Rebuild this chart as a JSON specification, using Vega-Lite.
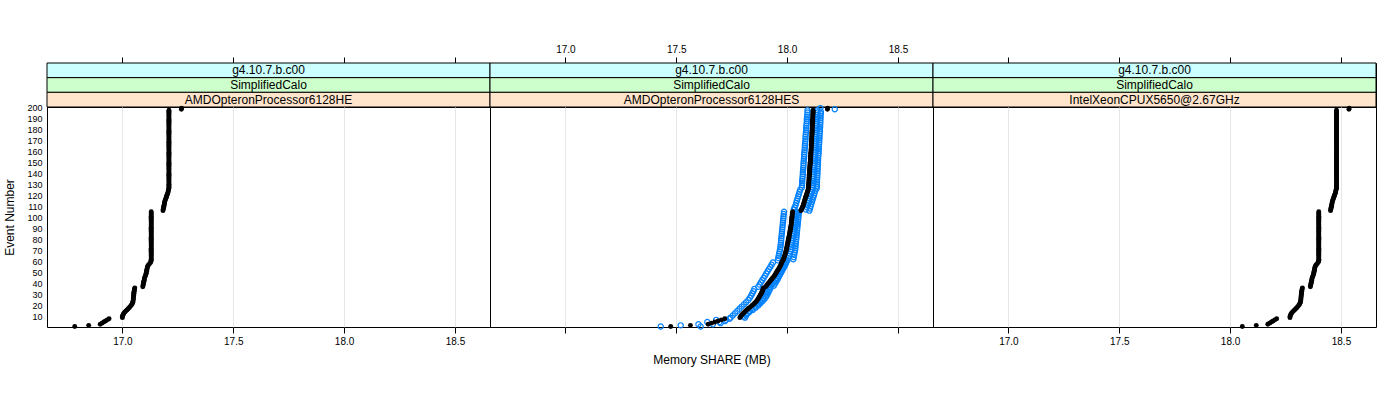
{
"$schema":"https://vega.github.io/schema/vega-lite/v6.json",
"padding":{"left":3,"top":43,"right":5,"bottom":5},
"background":"white",
"config":{"font":"Liberation Sans","view":{"stroke":"black","strokeWidth":1},"axis":{"labelFont":"Liberation Sans","titleFont":"Liberation Sans","labelColor":"black","titleColor":"black","tickColor":"black","titleFontWeight":"normal","domain":false},"concat":{"spacing":0}},
"datasets":{
"he":[{"e":1,"x":16.785},{"e":2,"x":16.848},{"e":3,"x":16.900},{"e":4,"x":16.908},{"e":5,"x":16.916},{"e":6,"x":16.924},{"e":7,"x":16.932},{"e":8,"x":16.940},{"e":9,"x":17.000},{"e":10,"x":17.000},{"e":11,"x":17.002},{"e":12,"x":17.004},{"e":13,"x":17.007},{"e":14,"x":17.011},{"e":15,"x":17.016},{"e":16,"x":17.021},{"e":17,"x":17.026},{"e":18,"x":17.031},{"e":19,"x":17.035},{"e":20,"x":17.039},{"e":21,"x":17.043},{"e":22,"x":17.045},{"e":23,"x":17.047},{"e":24,"x":17.048},{"e":25,"x":17.049},{"e":26,"x":17.049},{"e":27,"x":17.050},{"e":28,"x":17.050},{"e":29,"x":17.051},{"e":30,"x":17.051},{"e":31,"x":17.052},{"e":32,"x":17.052},{"e":33,"x":17.053},{"e":34,"x":17.054},{"e":35,"x":17.055},{"e":36,"x":17.056},{"e":37,"x":17.092},{"e":38,"x":17.093},{"e":39,"x":17.094},{"e":40,"x":17.095},{"e":41,"x":17.096},{"e":42,"x":17.097},{"e":43,"x":17.098},{"e":44,"x":17.099},{"e":45,"x":17.100},{"e":46,"x":17.102},{"e":47,"x":17.104},{"e":48,"x":17.106},{"e":49,"x":17.107},{"e":50,"x":17.108},{"e":51,"x":17.109},{"e":52,"x":17.110},{"e":53,"x":17.111},{"e":54,"x":17.112},{"e":55,"x":17.113},{"e":56,"x":17.115},{"e":57,"x":17.119},{"e":58,"x":17.123},{"e":59,"x":17.127},{"e":60,"x":17.129},
{"e":61,"x":17.13},{"e":62,"x":17.13},{"e":63,"x":17.13},{"e":64,"x":17.13},{"e":65,"x":17.13},{"e":66,"x":17.13},{"e":67,"x":17.13},{"e":68,"x":17.13},{"e":69,"x":17.13},{"e":70,"x":17.13},{"e":71,"x":17.13},{"e":72,"x":17.13},{"e":73,"x":17.13},{"e":74,"x":17.13},{"e":75,"x":17.13},{"e":76,"x":17.13},{"e":77,"x":17.13},{"e":78,"x":17.13},{"e":79,"x":17.13},{"e":80,"x":17.13},{"e":81,"x":17.13},{"e":82,"x":17.13},{"e":83,"x":17.13},{"e":84,"x":17.13},{"e":85,"x":17.13},{"e":86,"x":17.13},{"e":87,"x":17.13},{"e":88,"x":17.13},{"e":89,"x":17.13},{"e":90,"x":17.13},{"e":91,"x":17.13},{"e":92,"x":17.13},{"e":93,"x":17.13},{"e":94,"x":17.13},{"e":95,"x":17.13},{"e":96,"x":17.13},{"e":97,"x":17.13},{"e":98,"x":17.13},{"e":99,"x":17.13},{"e":100,"x":17.13},{"e":101,"x":17.13},{"e":102,"x":17.13},{"e":103,"x":17.13},{"e":104,"x":17.13},{"e":105,"x":17.13},
{"e":106,"x":17.183},{"e":107,"x":17.184},{"e":108,"x":17.185},{"e":109,"x":17.186},{"e":110,"x":17.187},{"e":111,"x":17.188},{"e":112,"x":17.189},{"e":113,"x":17.190},{"e":114,"x":17.191},{"e":115,"x":17.192},{"e":116,"x":17.194},{"e":117,"x":17.196},{"e":118,"x":17.198},{"e":119,"x":17.199},{"e":120,"x":17.201},{"e":121,"x":17.203},{"e":122,"x":17.205},{"e":123,"x":17.206},{"e":124,"x":17.207},{"e":125,"x":17.208},
{"e":126,"x":17.21},{"e":127,"x":17.21},{"e":128,"x":17.21},{"e":129,"x":17.21},{"e":130,"x":17.21},{"e":131,"x":17.21},{"e":132,"x":17.21},{"e":133,"x":17.21},{"e":134,"x":17.21},{"e":135,"x":17.21},{"e":136,"x":17.21},{"e":137,"x":17.21},{"e":138,"x":17.21},{"e":139,"x":17.21},{"e":140,"x":17.21},{"e":141,"x":17.21},{"e":142,"x":17.21},{"e":143,"x":17.21},{"e":144,"x":17.21},{"e":145,"x":17.21},{"e":146,"x":17.21},{"e":147,"x":17.21},{"e":148,"x":17.21},{"e":149,"x":17.21},{"e":150,"x":17.21},{"e":151,"x":17.21},{"e":152,"x":17.21},{"e":153,"x":17.21},{"e":154,"x":17.21},{"e":155,"x":17.21},{"e":156,"x":17.21},{"e":157,"x":17.21},{"e":158,"x":17.21},{"e":159,"x":17.21},{"e":160,"x":17.21},{"e":161,"x":17.21},{"e":162,"x":17.21},{"e":163,"x":17.21},{"e":164,"x":17.21},{"e":165,"x":17.21},{"e":166,"x":17.21},{"e":167,"x":17.21},{"e":168,"x":17.21},{"e":169,"x":17.21},{"e":170,"x":17.21},{"e":171,"x":17.21},{"e":172,"x":17.21},{"e":173,"x":17.21},{"e":174,"x":17.21},{"e":175,"x":17.21},{"e":176,"x":17.21},{"e":177,"x":17.21},{"e":178,"x":17.21},{"e":179,"x":17.21},{"e":180,"x":17.21},{"e":181,"x":17.21},{"e":182,"x":17.21},{"e":183,"x":17.21},{"e":184,"x":17.21},{"e":185,"x":17.21},{"e":186,"x":17.21},{"e":187,"x":17.21},{"e":188,"x":17.21},{"e":189,"x":17.21},{"e":190,"x":17.21},{"e":191,"x":17.21},{"e":192,"x":17.21},{"e":193,"x":17.21},{"e":194,"x":17.21},{"e":195,"x":17.21},{"e":196,"x":17.21},{"e":197,"x":17.21},{"e":198,"x":17.266},{"e":199,"x":17.267}],
"xeon":[{"e":1,"x":18.055},{"e":2,"x":18.118},{"e":3,"x":18.170},{"e":4,"x":18.178},{"e":5,"x":18.186},{"e":6,"x":18.194},{"e":7,"x":18.202},{"e":8,"x":18.210},{"e":9,"x":18.270},{"e":10,"x":18.270},{"e":11,"x":18.272},{"e":12,"x":18.274},{"e":13,"x":18.277},{"e":14,"x":18.281},{"e":15,"x":18.286},{"e":16,"x":18.291},{"e":17,"x":18.296},{"e":18,"x":18.301},{"e":19,"x":18.305},{"e":20,"x":18.309},{"e":21,"x":18.313},{"e":22,"x":18.315},{"e":23,"x":18.317},{"e":24,"x":18.318},{"e":25,"x":18.319},{"e":26,"x":18.319},{"e":27,"x":18.320},{"e":28,"x":18.320},{"e":29,"x":18.321},{"e":30,"x":18.321},{"e":31,"x":18.322},{"e":32,"x":18.322},{"e":33,"x":18.323},{"e":34,"x":18.324},{"e":35,"x":18.325},{"e":36,"x":18.326},{"e":37,"x":18.362},{"e":38,"x":18.363},{"e":39,"x":18.364},{"e":40,"x":18.365},{"e":41,"x":18.366},{"e":42,"x":18.367},{"e":43,"x":18.368},{"e":44,"x":18.369},{"e":45,"x":18.370},{"e":46,"x":18.372},{"e":47,"x":18.374},{"e":48,"x":18.376},{"e":49,"x":18.377},{"e":50,"x":18.378},{"e":51,"x":18.379},{"e":52,"x":18.380},{"e":53,"x":18.381},{"e":54,"x":18.382},{"e":55,"x":18.383},{"e":56,"x":18.385},{"e":57,"x":18.389},{"e":58,"x":18.393},{"e":59,"x":18.397},{"e":60,"x":18.399},
{"e":61,"x":18.4},{"e":62,"x":18.4},{"e":63,"x":18.4},{"e":64,"x":18.4},{"e":65,"x":18.4},{"e":66,"x":18.4},{"e":67,"x":18.4},{"e":68,"x":18.4},{"e":69,"x":18.4},{"e":70,"x":18.4},{"e":71,"x":18.4},{"e":72,"x":18.4},{"e":73,"x":18.4},{"e":74,"x":18.4},{"e":75,"x":18.4},{"e":76,"x":18.4},{"e":77,"x":18.4},{"e":78,"x":18.4},{"e":79,"x":18.4},{"e":80,"x":18.4},{"e":81,"x":18.4},{"e":82,"x":18.4},{"e":83,"x":18.4},{"e":84,"x":18.4},{"e":85,"x":18.4},{"e":86,"x":18.4},{"e":87,"x":18.4},{"e":88,"x":18.4},{"e":89,"x":18.4},{"e":90,"x":18.4},{"e":91,"x":18.4},{"e":92,"x":18.4},{"e":93,"x":18.4},{"e":94,"x":18.4},{"e":95,"x":18.4},{"e":96,"x":18.4},{"e":97,"x":18.4},{"e":98,"x":18.4},{"e":99,"x":18.4},{"e":100,"x":18.4},{"e":101,"x":18.4},{"e":102,"x":18.4},{"e":103,"x":18.4},{"e":104,"x":18.4},{"e":105,"x":18.4},
{"e":106,"x":18.453},{"e":107,"x":18.454},{"e":108,"x":18.455},{"e":109,"x":18.456},{"e":110,"x":18.457},{"e":111,"x":18.458},{"e":112,"x":18.459},{"e":113,"x":18.460},{"e":114,"x":18.461},{"e":115,"x":18.462},{"e":116,"x":18.464},{"e":117,"x":18.466},{"e":118,"x":18.468},{"e":119,"x":18.469},{"e":120,"x":18.471},{"e":121,"x":18.473},{"e":122,"x":18.475},{"e":123,"x":18.476},{"e":124,"x":18.477},{"e":125,"x":18.478},
{"e":126,"x":18.48},{"e":127,"x":18.48},{"e":128,"x":18.48},{"e":129,"x":18.48},{"e":130,"x":18.48},{"e":131,"x":18.48},{"e":132,"x":18.48},{"e":133,"x":18.48},{"e":134,"x":18.48},{"e":135,"x":18.48},{"e":136,"x":18.48},{"e":137,"x":18.48},{"e":138,"x":18.48},{"e":139,"x":18.48},{"e":140,"x":18.48},{"e":141,"x":18.48},{"e":142,"x":18.48},{"e":143,"x":18.48},{"e":144,"x":18.48},{"e":145,"x":18.48},{"e":146,"x":18.48},{"e":147,"x":18.48},{"e":148,"x":18.48},{"e":149,"x":18.48},{"e":150,"x":18.48},{"e":151,"x":18.48},{"e":152,"x":18.48},{"e":153,"x":18.48},{"e":154,"x":18.48},{"e":155,"x":18.48},{"e":156,"x":18.48},{"e":157,"x":18.48},{"e":158,"x":18.48},{"e":159,"x":18.48},{"e":160,"x":18.48},{"e":161,"x":18.48},{"e":162,"x":18.48},{"e":163,"x":18.48},{"e":164,"x":18.48},{"e":165,"x":18.48},{"e":166,"x":18.48},{"e":167,"x":18.48},{"e":168,"x":18.48},{"e":169,"x":18.48},{"e":170,"x":18.48},{"e":171,"x":18.48},{"e":172,"x":18.48},{"e":173,"x":18.48},{"e":174,"x":18.48},{"e":175,"x":18.48},{"e":176,"x":18.48},{"e":177,"x":18.48},{"e":178,"x":18.48},{"e":179,"x":18.48},{"e":180,"x":18.48},{"e":181,"x":18.48},{"e":182,"x":18.48},{"e":183,"x":18.48},{"e":184,"x":18.48},{"e":185,"x":18.48},{"e":186,"x":18.48},{"e":187,"x":18.48},{"e":188,"x":18.48},{"e":189,"x":18.48},{"e":190,"x":18.48},{"e":191,"x":18.48},{"e":192,"x":18.48},{"e":193,"x":18.48},{"e":194,"x":18.48},{"e":195,"x":18.48},{"e":196,"x":18.48},{"e":197,"x":18.48},{"e":198,"x":18.536},{"e":199,"x":18.537}],
"hes":[{"e":1,"x":17.475},{"e":2,"x":17.564},{"e":3,"x":17.644},{"e":4,"x":17.659},{"e":5,"x":17.674},{"e":6,"x":17.689},{"e":7,"x":17.704},{"e":8,"x":17.719},{"e":9,"x":17.787},{"e":10,"x":17.790},{"e":11,"x":17.794},{"e":12,"x":17.798},{"e":13,"x":17.803},{"e":14,"x":17.808},{"e":15,"x":17.813},{"e":16,"x":17.818},{"e":17,"x":17.824},{"e":18,"x":17.830},{"e":19,"x":17.836},{"e":20,"x":17.842},{"e":21,"x":17.848},{"e":22,"x":17.853},{"e":23,"x":17.858},{"e":24,"x":17.862},{"e":25,"x":17.866},{"e":26,"x":17.869},{"e":27,"x":17.872},{"e":28,"x":17.875},{"e":29,"x":17.878},{"e":30,"x":17.881},{"e":31,"x":17.884},{"e":32,"x":17.886},{"e":33,"x":17.888},{"e":34,"x":17.890},{"e":35,"x":17.892},{"e":36,"x":17.894},{"e":37,"x":17.903},{"e":38,"x":17.907},{"e":39,"x":17.911},{"e":40,"x":17.915},{"e":41,"x":17.919},{"e":42,"x":17.923},{"e":43,"x":17.927},{"e":44,"x":17.931},{"e":45,"x":17.935},{"e":46,"x":17.939},{"e":47,"x":17.943},{"e":48,"x":17.946},{"e":49,"x":17.949},{"e":50,"x":17.952},{"e":51,"x":17.955},{"e":52,"x":17.958},{"e":53,"x":17.961},{"e":54,"x":17.964},{"e":55,"x":17.967},{"e":56,"x":17.970},{"e":57,"x":17.972},{"e":58,"x":17.974},{"e":59,"x":17.976},{"e":60,"x":17.978},
{"e":61,"x":17.982},{"e":62,"x":17.984},{"e":63,"x":17.985},{"e":64,"x":17.987},{"e":65,"x":17.989},{"e":66,"x":17.990},{"e":67,"x":17.992},{"e":68,"x":17.993},{"e":69,"x":17.995},{"e":70,"x":17.996},{"e":71,"x":17.997},{"e":72,"x":17.998},{"e":73,"x":17.999},{"e":74,"x":18.000},{"e":75,"x":18.001},{"e":76,"x":18.002},{"e":77,"x":18.003},{"e":78,"x":18.004},{"e":79,"x":18.005},{"e":80,"x":18.006},{"e":81,"x":18.007},{"e":82,"x":18.008},{"e":83,"x":18.009},{"e":84,"x":18.010},{"e":85,"x":18.011},{"e":86,"x":18.012},{"e":87,"x":18.013},{"e":88,"x":18.014},{"e":89,"x":18.015},{"e":90,"x":18.016},{"e":91,"x":18.016},{"e":92,"x":18.017},{"e":93,"x":18.018},{"e":94,"x":18.019},{"e":95,"x":18.019},{"e":96,"x":18.020},{"e":97,"x":18.020},{"e":98,"x":18.021},{"e":99,"x":18.021},{"e":100,"x":18.022},{"e":101,"x":18.022},{"e":102,"x":18.023},{"e":103,"x":18.023},{"e":104,"x":18.024},{"e":105,"x":18.025},
{"e":106,"x":18.062},{"e":107,"x":18.065},{"e":108,"x":18.067},{"e":109,"x":18.069},{"e":110,"x":18.071},{"e":111,"x":18.073},{"e":112,"x":18.074},{"e":113,"x":18.076},{"e":114,"x":18.077},{"e":115,"x":18.079},{"e":116,"x":18.080},{"e":117,"x":18.082},{"e":118,"x":18.083},{"e":119,"x":18.085},{"e":120,"x":18.087},{"e":121,"x":18.088},{"e":122,"x":18.090},{"e":123,"x":18.091},{"e":124,"x":18.093},{"e":125,"x":18.095},
{"e":126,"x":18.096},{"e":127,"x":18.096},{"e":128,"x":18.097},{"e":129,"x":18.097},{"e":130,"x":18.097},{"e":131,"x":18.098},{"e":132,"x":18.098},{"e":133,"x":18.098},{"e":134,"x":18.099},{"e":135,"x":18.099},{"e":136,"x":18.099},{"e":137,"x":18.100},{"e":138,"x":18.100},{"e":139,"x":18.100},{"e":140,"x":18.101},{"e":141,"x":18.101},{"e":142,"x":18.101},{"e":143,"x":18.102},{"e":144,"x":18.102},{"e":145,"x":18.102},{"e":146,"x":18.103},{"e":147,"x":18.103},{"e":148,"x":18.104},{"e":149,"x":18.104},{"e":150,"x":18.104},{"e":151,"x":18.105},{"e":152,"x":18.105},{"e":153,"x":18.105},{"e":154,"x":18.106},{"e":155,"x":18.106},{"e":156,"x":18.106},{"e":157,"x":18.107},{"e":158,"x":18.107},{"e":159,"x":18.107},{"e":160,"x":18.108},{"e":161,"x":18.108},{"e":162,"x":18.108},{"e":163,"x":18.109},{"e":164,"x":18.109},{"e":165,"x":18.109},{"e":166,"x":18.109},{"e":167,"x":18.110},{"e":168,"x":18.110},{"e":169,"x":18.110},{"e":170,"x":18.110},{"e":171,"x":18.111},{"e":172,"x":18.111},{"e":173,"x":18.111},{"e":174,"x":18.112},{"e":175,"x":18.112},{"e":176,"x":18.112},{"e":177,"x":18.112},{"e":178,"x":18.113},{"e":179,"x":18.113},{"e":180,"x":18.113},{"e":181,"x":18.113},{"e":182,"x":18.114},{"e":183,"x":18.114},{"e":184,"x":18.114},{"e":185,"x":18.114},{"e":186,"x":18.115},{"e":187,"x":18.115},{"e":188,"x":18.115},{"e":189,"x":18.115},{"e":190,"x":18.116},{"e":191,"x":18.116},{"e":192,"x":18.116},{"e":193,"x":18.116},{"e":194,"x":18.117},{"e":195,"x":18.117},{"e":196,"x":18.117},{"e":197,"x":18.117},{"e":198,"x":18.182},{"e":199,"x":18.183}],
"hesb":[{"e":1,"x":17.430},{"e":3,"x":17.600},{"e":5,"x":17.640},{"e":7,"x":17.680},{"e":9,"x":17.745},{"e":11,"x":17.755},{"e":13,"x":17.765},{"e":15,"x":17.775},{"e":17,"x":17.785},{"e":19,"x":17.795},{"e":21,"x":17.805},{"e":23,"x":17.815},{"e":25,"x":17.825},{"e":27,"x":17.832},{"e":29,"x":17.838},{"e":31,"x":17.843},{"e":33,"x":17.848},{"e":35,"x":17.852},{"e":37,"x":17.870},{"e":39,"x":17.876},{"e":41,"x":17.882},{"e":43,"x":17.888},{"e":45,"x":17.894},{"e":47,"x":17.900},{"e":49,"x":17.906},{"e":51,"x":17.912},{"e":53,"x":17.918},{"e":55,"x":17.924},{"e":57,"x":17.930},{"e":59,"x":17.936},{"e":61,"x":17.958},{"e":63,"x":17.960},{"e":65,"x":17.962},{"e":67,"x":17.964},{"e":69,"x":17.966},{"e":71,"x":17.968},{"e":73,"x":17.970},{"e":75,"x":17.971},{"e":77,"x":17.972},{"e":79,"x":17.973},{"e":81,"x":17.974},{"e":83,"x":17.975},{"e":85,"x":17.976},{"e":87,"x":17.977},{"e":89,"x":17.978},{"e":91,"x":17.979},{"e":93,"x":17.980},{"e":95,"x":17.981},{"e":97,"x":17.982},{"e":99,"x":17.983},{"e":101,"x":17.984},{"e":103,"x":17.985},{"e":105,"x":17.986},{"e":107,"x":18.030},{"e":109,"x":18.034},{"e":111,"x":18.038},{"e":113,"x":18.041},{"e":115,"x":18.044},{"e":117,"x":18.047},{"e":119,"x":18.050},{"e":121,"x":18.053},{"e":123,"x":18.056},{"e":125,"x":18.059},{"e":127,"x":18.066},{"e":129,"x":18.067},{"e":131,"x":18.068},{"e":133,"x":18.068},{"e":135,"x":18.069},{"e":137,"x":18.070},{"e":139,"x":18.071},{"e":141,"x":18.071},{"e":143,"x":18.072},{"e":145,"x":18.073},{"e":147,"x":18.074},{"e":149,"x":18.074},{"e":151,"x":18.075},{"e":153,"x":18.076},{"e":155,"x":18.077},{"e":157,"x":18.077},{"e":159,"x":18.078},{"e":161,"x":18.079},{"e":163,"x":18.080},{"e":165,"x":18.080},{"e":167,"x":18.081},{"e":169,"x":18.082},{"e":171,"x":18.083},{"e":173,"x":18.083},{"e":175,"x":18.084},{"e":177,"x":18.085},{"e":179,"x":18.086},{"e":181,"x":18.086},{"e":183,"x":18.087},{"e":185,"x":18.088},{"e":187,"x":18.089},{"e":189,"x":18.089},{"e":191,"x":18.090},{"e":193,"x":18.091},{"e":195,"x":18.092},{"e":197,"x":18.092},{"e":199,"x":18.150},
{"e":2,"x":17.520},{"e":4,"x":17.700},{"e":6,"x":17.720},{"e":8,"x":17.740},{"e":10,"x":17.805},{"e":12,"x":17.815},{"e":14,"x":17.830},{"e":16,"x":17.845},{"e":18,"x":17.858},{"e":20,"x":17.870},{"e":22,"x":17.880},{"e":24,"x":17.890},{"e":26,"x":17.898},{"e":28,"x":17.905},{"e":30,"x":17.911},{"e":32,"x":17.916},{"e":34,"x":17.921},{"e":36,"x":17.926},{"e":38,"x":17.940},{"e":40,"x":17.946},{"e":42,"x":17.952},{"e":44,"x":17.958},{"e":46,"x":17.963},{"e":48,"x":17.968},{"e":50,"x":17.973},{"e":52,"x":17.978},{"e":54,"x":17.983},{"e":56,"x":17.988},{"e":58,"x":17.992},{"e":60,"x":17.996},{"e":62,"x":18.028},{"e":64,"x":18.030},{"e":66,"x":18.032},{"e":68,"x":18.034},{"e":70,"x":18.036},{"e":72,"x":18.037},{"e":74,"x":18.038},{"e":76,"x":18.039},{"e":78,"x":18.040},{"e":80,"x":18.041},{"e":82,"x":18.042},{"e":84,"x":18.043},{"e":86,"x":18.044},{"e":88,"x":18.045},{"e":90,"x":18.046},{"e":92,"x":18.047},{"e":94,"x":18.048},{"e":96,"x":18.049},{"e":98,"x":18.050},{"e":100,"x":18.051},{"e":102,"x":18.052},{"e":104,"x":18.053},{"e":106,"x":18.100},{"e":108,"x":18.103},{"e":110,"x":18.106},{"e":112,"x":18.109},{"e":114,"x":18.112},{"e":116,"x":18.115},{"e":118,"x":18.118},{"e":120,"x":18.121},{"e":122,"x":18.124},{"e":124,"x":18.127},{"e":126,"x":18.133},{"e":128,"x":18.134},{"e":130,"x":18.134},{"e":132,"x":18.135},{"e":134,"x":18.135},{"e":136,"x":18.136},{"e":138,"x":18.136},{"e":140,"x":18.137},{"e":142,"x":18.137},{"e":144,"x":18.138},{"e":146,"x":18.138},{"e":148,"x":18.139},{"e":150,"x":18.139},{"e":152,"x":18.140},{"e":154,"x":18.140},{"e":156,"x":18.141},{"e":158,"x":18.142},{"e":160,"x":18.142},{"e":162,"x":18.143},{"e":164,"x":18.143},{"e":166,"x":18.144},{"e":168,"x":18.145},{"e":170,"x":18.145},{"e":172,"x":18.146},{"e":174,"x":18.146},{"e":176,"x":18.147},{"e":178,"x":18.148},{"e":180,"x":18.148},{"e":182,"x":18.149},{"e":184,"x":18.149},{"e":186,"x":18.150},{"e":188,"x":18.150},{"e":190,"x":18.151},{"e":192,"x":18.151},{"e":194,"x":18.152},{"e":196,"x":18.152},{"e":198,"x":18.215},
{"e":1,"x":17.610},{"e":3,"x":17.665},{"e":5,"x":17.695},{"e":7,"x":17.725},{"e":9,"x":17.810},{"e":11,"x":17.815},{"e":13,"x":17.823},{"e":15,"x":17.833},{"e":17,"x":17.844},{"e":19,"x":17.856},{"e":21,"x":17.868},{"e":23,"x":17.878},{"e":25,"x":17.886},{"e":27,"x":17.892},{"e":29,"x":17.898},{"e":31,"x":17.904},{"e":33,"x":17.908},{"e":35,"x":17.912},{"e":37,"x":17.923},{"e":39,"x":17.931},{"e":41,"x":17.939},{"e":43,"x":17.947},{"e":45,"x":17.955},{"e":47,"x":17.963},{"e":49,"x":17.969},{"e":51,"x":17.975},{"e":53,"x":17.981},{"e":55,"x":17.987},{"e":57,"x":17.992},{"e":59,"x":17.996},{"e":61,"x":18.002},{"e":63,"x":18.005},{"e":65,"x":18.009},{"e":67,"x":18.012},{"e":69,"x":18.015},{"e":71,"x":18.017},{"e":73,"x":18.019},{"e":75,"x":18.021},{"e":77,"x":18.023},{"e":79,"x":18.025},{"e":81,"x":18.027},{"e":83,"x":18.029},{"e":85,"x":18.031},{"e":87,"x":18.033},{"e":89,"x":18.035},{"e":91,"x":18.036},{"e":93,"x":18.038},{"e":95,"x":18.039},{"e":97,"x":18.040},{"e":99,"x":18.041},{"e":101,"x":18.042},{"e":103,"x":18.043},{"e":105,"x":18.045},{"e":107,"x":18.085},{"e":109,"x":18.089},{"e":111,"x":18.093},{"e":113,"x":18.096},{"e":115,"x":18.099},{"e":117,"x":18.102},{"e":119,"x":18.105},{"e":121,"x":18.108},{"e":123,"x":18.111},{"e":125,"x":18.115},{"e":127,"x":18.116},{"e":129,"x":18.117},{"e":131,"x":18.118},{"e":133,"x":18.118},{"e":135,"x":18.119},{"e":137,"x":18.120},{"e":139,"x":18.120},{"e":141,"x":18.121},{"e":143,"x":18.122},{"e":145,"x":18.122},{"e":147,"x":18.123},{"e":149,"x":18.124},{"e":151,"x":18.125},{"e":153,"x":18.125},{"e":155,"x":18.126},{"e":157,"x":18.127},{"e":159,"x":18.127},{"e":161,"x":18.128},{"e":163,"x":18.129},{"e":165,"x":18.129},{"e":167,"x":18.130},{"e":169,"x":18.130},{"e":171,"x":18.131},{"e":173,"x":18.131},{"e":175,"x":18.132},{"e":177,"x":18.132},{"e":179,"x":18.133},{"e":181,"x":18.133},{"e":183,"x":18.134},{"e":185,"x":18.134},{"e":187,"x":18.135},{"e":189,"x":18.135},{"e":191,"x":18.136},{"e":193,"x":18.136},{"e":195,"x":18.137},{"e":197,"x":18.137}]
},
"concat":[
{"width":443,"height":44,
 "data":{"values":[{"lvl":"a","t":"g4.10.7.b.c00"},{"lvl":"b","t":"SimplifiedCalo"},{"lvl":"c","t":"AMDOpteronProcessor6128HE"}]},
 "layer":[
  {"mark":{"type":"rect","stroke":"black","strokeWidth":1},
   "encoding":{
    "x":{"datum":16.66,"type":"quantitative","scale":{"domain":[16.66,18.658],"nice":false,"zero":false},"axis":{"orient":"top","values":[17,17.5,18,18.5],"format":".1f","grid":false,"tickSize":6,"labelPadding":3,"labelFontSize":10,"labelOpacity":0,"title":null}},
    "x2":{"datum":18.658},
    "y":{"field":"lvl","type":"nominal","scale":{"paddingInner":0,"paddingOuter":0},"axis":null},
    "fill":{"field":"lvl","type":"nominal","scale":{"domain":["a","b","c"],"range":["#ccffff","#ccffcc","#ffe5cc"]},"legend":null}}},
  {"mark":{"type":"text","fontSize":12,"font":"Liberation Sans","color":"black"},
   "encoding":{"x":{"datum":17.659,"type":"quantitative"},"y":{"field":"lvl","type":"nominal","axis":null},"text":{"field":"t"}}}
 ]},
{"width":443,"height":44,
 "data":{"values":[{"lvl":"a","t":"g4.10.7.b.c00"},{"lvl":"b","t":"SimplifiedCalo"},{"lvl":"c","t":"AMDOpteronProcessor6128HES"}]},
 "layer":[
  {"mark":{"type":"rect","stroke":"black","strokeWidth":1},
   "encoding":{
    "x":{"datum":16.66,"type":"quantitative","scale":{"domain":[16.66,18.658],"nice":false,"zero":false},"axis":{"orient":"top","values":[17,17.5,18,18.5],"format":".1f","grid":false,"tickSize":6,"labelPadding":3,"labelFontSize":10,"labelOpacity":1,"title":null}},
    "x2":{"datum":18.658},
    "y":{"field":"lvl","type":"nominal","scale":{"paddingInner":0,"paddingOuter":0},"axis":null},
    "fill":{"field":"lvl","type":"nominal","scale":{"domain":["a","b","c"],"range":["#ccffff","#ccffcc","#ffe5cc"]},"legend":null}}},
  {"mark":{"type":"text","fontSize":12,"font":"Liberation Sans","color":"black"},
   "encoding":{"x":{"datum":17.659,"type":"quantitative"},"y":{"field":"lvl","type":"nominal","axis":null},"text":{"field":"t"}}}
 ]},
{"width":443,"height":44,
 "data":{"values":[{"lvl":"a","t":"g4.10.7.b.c00"},{"lvl":"b","t":"SimplifiedCalo"},{"lvl":"c","t":"IntelXeonCPUX5650@2.67GHz"}]},
 "layer":[
  {"mark":{"type":"rect","stroke":"black","strokeWidth":1},
   "encoding":{
    "x":{"datum":16.66,"type":"quantitative","scale":{"domain":[16.66,18.658],"nice":false,"zero":false},"axis":{"orient":"top","values":[17,17.5,18,18.5],"format":".1f","grid":false,"tickSize":6,"labelPadding":3,"labelFontSize":10,"labelOpacity":0,"title":null}},
    "x2":{"datum":18.658},
    "y":{"field":"lvl","type":"nominal","scale":{"paddingInner":0,"paddingOuter":0},"axis":null},
    "fill":{"field":"lvl","type":"nominal","scale":{"domain":["a","b","c"],"range":["#ccffff","#ccffcc","#ffe5cc"]},"legend":null}}},
  {"mark":{"type":"text","fontSize":12,"font":"Liberation Sans","color":"black"},
   "encoding":{"x":{"datum":17.659,"type":"quantitative"},"y":{"field":"lvl","type":"nominal","axis":null},"text":{"field":"t"}}}
 ]},
{"width":443,"height":220,
 "data":{"name":"he"},
 "mark":{"type":"circle","color":"black","size":24,"opacity":1},
 "encoding":{
  "x":{"field":"x","type":"quantitative","scale":{"domain":[16.66,18.658],"nice":false,"zero":false},"axis":{"orient":"bottom","values":[17,17.5,18,18.5],"format":".1f","grid":true,"gridColor":"#e6e6e6","tickSize":6,"labelPadding":3,"labelFontSize":10,"title":null}},
  "y":{"field":"e","type":"quantitative","scale":{"domain":[0.5,200],"nice":false,"zero":false},"axis":{"values":[10,20,30,40,50,60,70,80,90,100,110,120,130,140,150,160,170,180,190,200],"ticks":false,"labelPadding":5,"labelFontSize":9,"grid":false,"title":"Event Number","titleFontSize":12,"titlePadding":10}}}},
{"width":443,"height":220,
 "layer":[
  {"data":{"name":"hesb"},
   "mark":{"type":"point","shape":"circle","filled":false,"color":"#0080ff","strokeWidth":1.2,"size":27,"opacity":1},
   "encoding":{
    "x":{"field":"x","type":"quantitative","scale":{"domain":[16.66,18.658],"nice":false,"zero":false},"axis":{"orient":"bottom","values":[17,17.5,18,18.5],"format":".1f","grid":true,"gridColor":"#e6e6e6","tickSize":6,"labelPadding":3,"labelFontSize":10,"labelOpacity":0,"title":"Memory SHARE (MB)","titleFontSize":12,"titlePadding":8}},
    "y":{"field":"e","type":"quantitative","scale":{"domain":[0.5,200],"nice":false,"zero":false},"axis":null}}},
  {"data":{"name":"hes"},
   "mark":{"type":"circle","color":"black","size":24,"opacity":1},
   "encoding":{
    "x":{"field":"x","type":"quantitative"},
    "y":{"field":"e","type":"quantitative"}}}
 ]},
{"width":443,"height":220,
 "data":{"name":"xeon"},
 "mark":{"type":"circle","color":"black","size":24,"opacity":1},
 "encoding":{
  "x":{"field":"x","type":"quantitative","scale":{"domain":[16.66,18.658],"nice":false,"zero":false},"axis":{"orient":"bottom","values":[17,17.5,18,18.5],"format":".1f","grid":true,"gridColor":"#e6e6e6","tickSize":6,"labelPadding":3,"labelFontSize":10,"title":null}},
  "y":{"field":"e","type":"quantitative","scale":{"domain":[0.5,200],"nice":false,"zero":false},"axis":null}}}
],
"columns":3,
"spacing":0,
"align":"each",
"bounds":"flush"
}
